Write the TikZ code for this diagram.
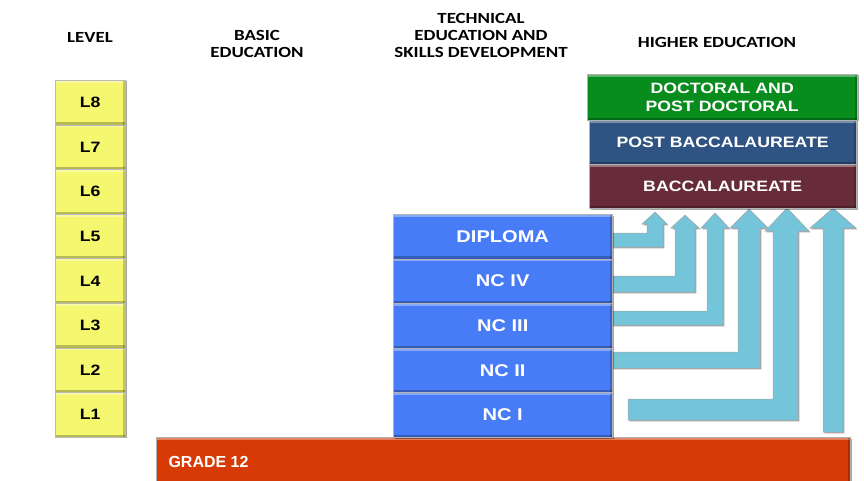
\documentclass[tikz,border=0pt]{standalone}
\usepackage{fontspec}
\setmainfont{Liberation Sans}
\newfontfamily\boxf{Liberation Sans}[FakeStretch=1.18]
\newfontfamily\hdrf{Carlito}[FakeStretch=1.22]
\usetikzlibrary{shadows}
\definecolor{lvlyellow}{RGB}{245,247,110}
\definecolor{tblue}{RGB}{72,124,246}
\definecolor{docgreen}{RGB}{8,140,30}
\definecolor{pbblue}{RGB}{47,83,130}
\definecolor{bacmaroon}{RGB}{104,44,56}
\definecolor{gradered}{RGB}{216,58,6}
\definecolor{arrowblue}{RGB}{116,196,218}
\tikzset{
  bevel/.style={path picture={
    \fill[white,opacity=0.35] (path picture bounding box.north west) rectangle ([yshift=-2.5pt]path picture bounding box.north east);
    \fill[black,opacity=0.25] (path picture bounding box.south west) rectangle ([yshift=2.5pt]path picture bounding box.south east);
    \fill[black,opacity=0.2] (path picture bounding box.north east) rectangle ([xshift=-2.5pt]path picture bounding box.south east);
  }},
  shad/.style={drop shadow={shadow xshift=1.3pt,shadow yshift=-1.3pt,opacity=0.35,fill=black}},
  lvlbox/.style={draw=gray!55, fill=lvlyellow, minimum width=70pt, minimum height=44.6pt,
    inner sep=0pt, anchor=north west, bevel, shad, text=black,
    font=\boxf\bfseries\fontsize{15}{18}\selectfont},
  tbox/.style={draw=gray!60, fill=tblue, minimum width=219pt, minimum height=44.6pt,
    inner sep=0pt, anchor=north west, bevel, shad, text=white,
    font=\boxf\bfseries\fontsize{17}{20}\selectfont},
  hbox/.style={draw=gray!60, minimum width=267pt, minimum height=44pt,
    inner sep=0pt, anchor=north west, bevel, shad, text=white, align=center,
    font=\boxf\bfseries\fontsize{15}{18}\selectfont},
  hdr/.style={font=\hdrf\bfseries\fontsize{15.5}{17}\selectfont, align=center, text=black},
  barrow/.style={fill=arrowblue, draw=gray!70, line width=0.5pt, shad},
}
\begin{document}
\begin{tikzpicture}[x=1pt,y=-1pt]
\useasboundingbox (0,0) rectangle (864,481);

% headers
\node[hdr] (hlev) at (90,37) {LEVEL};
\node[hdr] (hbas) at (257,44) {BASIC\\EDUCATION};
\node[hdr] (htec) at (481,35) {TECHNICAL\\EDUCATION AND\\SKILLS DEVELOPMENT};
\node[hdr] (hhig) at (717,42) {HIGHER EDUCATION};

% levels
\node[lvlbox] (l8) at (55,80) {L8};
\node[lvlbox] (l7) at (55,124.6) {L7};
\node[lvlbox] (l6) at (55,169.2) {L6};
\node[lvlbox] (l5) at (55,213.8) {L5};
\node[lvlbox] (l4) at (55,258.4) {L4};
\node[lvlbox] (l3) at (55,303) {L3};
\node[lvlbox] (l2) at (55,347.6) {L2};
\node[lvlbox] (l1) at (55,392.2) {L1};

% grade 12
\node[draw=gray!60, fill=gradered, minimum width=694pt, minimum height=46pt, inner sep=0pt,
  anchor=north west, bevel, shad] (g12) at (156,437) {};
\node[anchor=west, text=white, font=\bfseries\fontsize{16}{19}\selectfont] (g12t) at ([xshift=9pt,yshift=-2pt]g12.west) {GRADE 12};

% arrows
\draw[barrow] (612,233) -- (647,233) -- (647,224) -- (642,224) -- (655,212) -- (667,224) -- (663,224) -- (663,247) -- (612,247) -- cycle;
\draw[barrow] (612,276) -- (675,276) -- (675,228) -- (671,228) -- (685,215) -- (699,228) -- (695,228) -- (695,292) -- (612,292) -- cycle;
\draw[barrow] (612,311) -- (707,311) -- (707,228) -- (701,228) -- (715,213) -- (729,228) -- (723,228) -- (723,325) -- (612,325) -- cycle;
\draw[barrow] (612,352) -- (738,352) -- (738,228) -- (730,228) -- (749,209) -- (768,228) -- (760,228) -- (760,368) -- (612,368) -- cycle;
\draw[barrow] (628,399) -- (773,399) -- (773,231) -- (765,231) -- (787,208) -- (809,231) -- (798,231) -- (798,420) -- (628,420) -- cycle;
\draw[barrow] (823,432) -- (823,228) -- (810,228) -- (833,208) -- (856,228) -- (843,228) -- (843,432) -- cycle;

% technical
\node[tbox] (dip) at (393,214) {DIPLOMA};
\node[tbox] (nc4) at (393,258.6) {NC IV};
\node[tbox] (nc3) at (393,303.2) {NC III};
\node[tbox] (nc2) at (393,347.8) {NC II};
\node[tbox] (nc1) at (393,392.4) {NC I};

% higher education
\node[hbox, fill=docgreen, minimum width=270pt, minimum height=46pt] (doc) at (587,74) {DOCTORAL AND\\POST DOCTORAL};
\node[hbox, fill=pbblue] (pb) at (589,120) {POST BACCALAUREATE};
\node[hbox, fill=bacmaroon] (bac) at (589,164) {BACCALAUREATE};
\end{tikzpicture}
\end{document}
